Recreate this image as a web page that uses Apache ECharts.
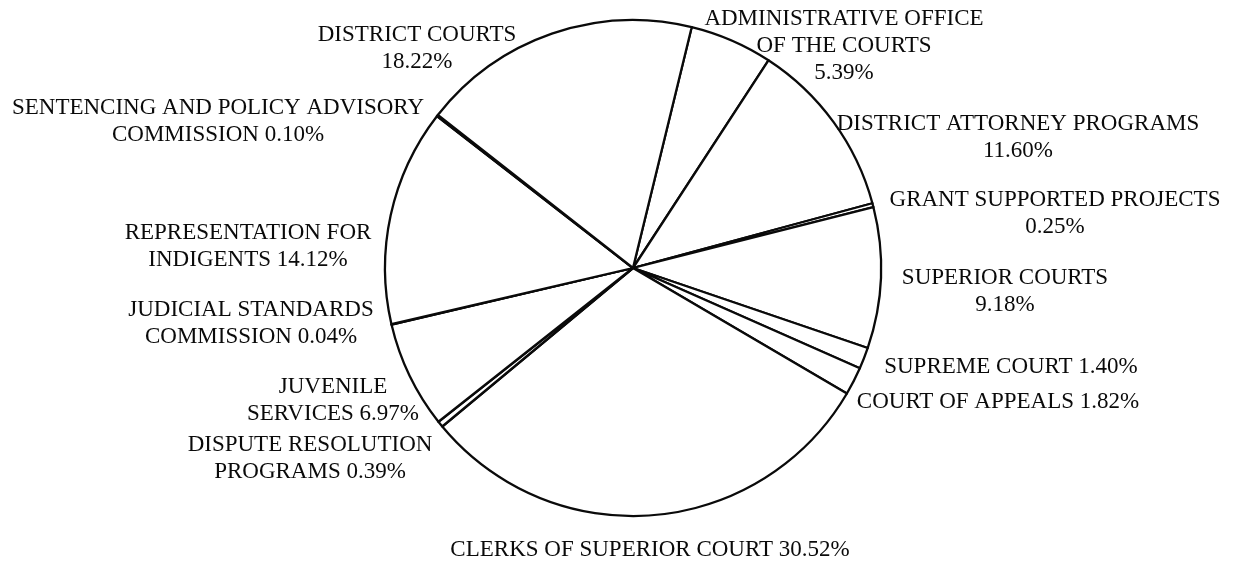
<!DOCTYPE html>
<html>
<head>
<meta charset="utf-8">
<script src="https://cdn.jsdelivr.net/npm/echarts@6/dist/echarts.min.js"></script>
<style>
html,body{margin:0;padding:0;background:#fff;}
#chart{width:1236px;height:567px;}
</style>
</head>
<body>
<div id="chart"></div>
<script>
// Data (clockwise from the top)
var categories = [
  'ADMINISTRATIVE OFFICE OF THE COURTS',
  'DISTRICT ATTORNEY PROGRAMS',
  'GRANT SUPPORTED PROJECTS',
  'SUPERIOR COURTS',
  'SUPREME COURT',
  'COURT OF APPEALS',
  'CLERKS OF SUPERIOR COURT',
  'DISPUTE RESOLUTION PROGRAMS',
  'JUVENILE SERVICES',
  'JUDICIAL STANDARDS COMMISSION',
  'REPRESENTATION FOR INDIGENTS',
  'SENTENCING AND POLICY ADVISORY COMMISSION',
  'DISTRICT COURTS'
];
var percents = [5.39, 11.60, 0.25, 9.18, 1.40, 1.82, 30.52, 0.39, 6.97, 0.04, 14.12, 0.10, 18.22];
var labelTexts = [
  'ADMINISTRATIVE OFFICE\nOF THE COURTS\n{v}',
  'DISTRICT ATTORNEY PROGRAMS\n{v}',
  'GRANT SUPPORTED PROJECTS\n{v}',
  'SUPERIOR COURTS\n{v}',
  'SUPREME COURT {v}',
  'COURT OF APPEALS {v}',
  'CLERKS OF SUPERIOR COURT {v}',
  'DISPUTE RESOLUTION\nPROGRAMS {v}',
  'JUVENILE\nSERVICES {v}',
  'JUDICIAL STANDARDS\nCOMMISSION {v}',
  'REPRESENTATION FOR\nINDIGENTS {v}',
  'SENTENCING AND POLICY ADVISORY\nCOMMISSION {v}',
  'DISTRICT COURTS\n{v}'
];

// Label anchor points (centre of each label block) – layout only
var labelAnchors = [
  [844, 46], [1018, 137], [1055, 213], [1005, 291], [1011, 367], [998, 402],
  [650, 550], [310, 458], [333, 400], [251, 323], [248, 246], [218, 121], [417, 48]
];

var chart = echarts.init(document.getElementById('chart'), null, {renderer: 'canvas'});
var data = categories.map(function (c, i) { return {name: c, value: percents[i]}; });

chart.setOption({
  backgroundColor: '#ffffff',
  animation: false,
  series: [{
    type: 'pie',
    center: [633, 268],
    radius: 248,
    startAngle: 76.3,
    clockwise: true,
    avoidLabelOverlap: false,
    silent: true,
    emphasis: {disabled: true, scale: false},
    itemStyle: {color: '#ffffff', borderColor: '#0a0a0a', borderWidth: 2.3},
    label: {
      show: true,
      position: 'outside',
      color: '#0a0a0a',
      fontFamily: '"Liberation Serif", "DejaVu Serif", serif',
      fontSize: 23,
      lineHeight: 27,
      align: 'center',
      formatter: function (p) {
        return labelTexts[p.dataIndex].replace('{v}', p.value.toFixed(2) + '%');
      }
    },
    labelLine: {show: false},
    labelLayout: function (params) {
      var a = labelAnchors[params.dataIndex];
      return {x: a[0], y: a[1], align: 'center', verticalAlign: 'middle'};
    },
    data: data
  }]
});
</script>
</body>
</html>
